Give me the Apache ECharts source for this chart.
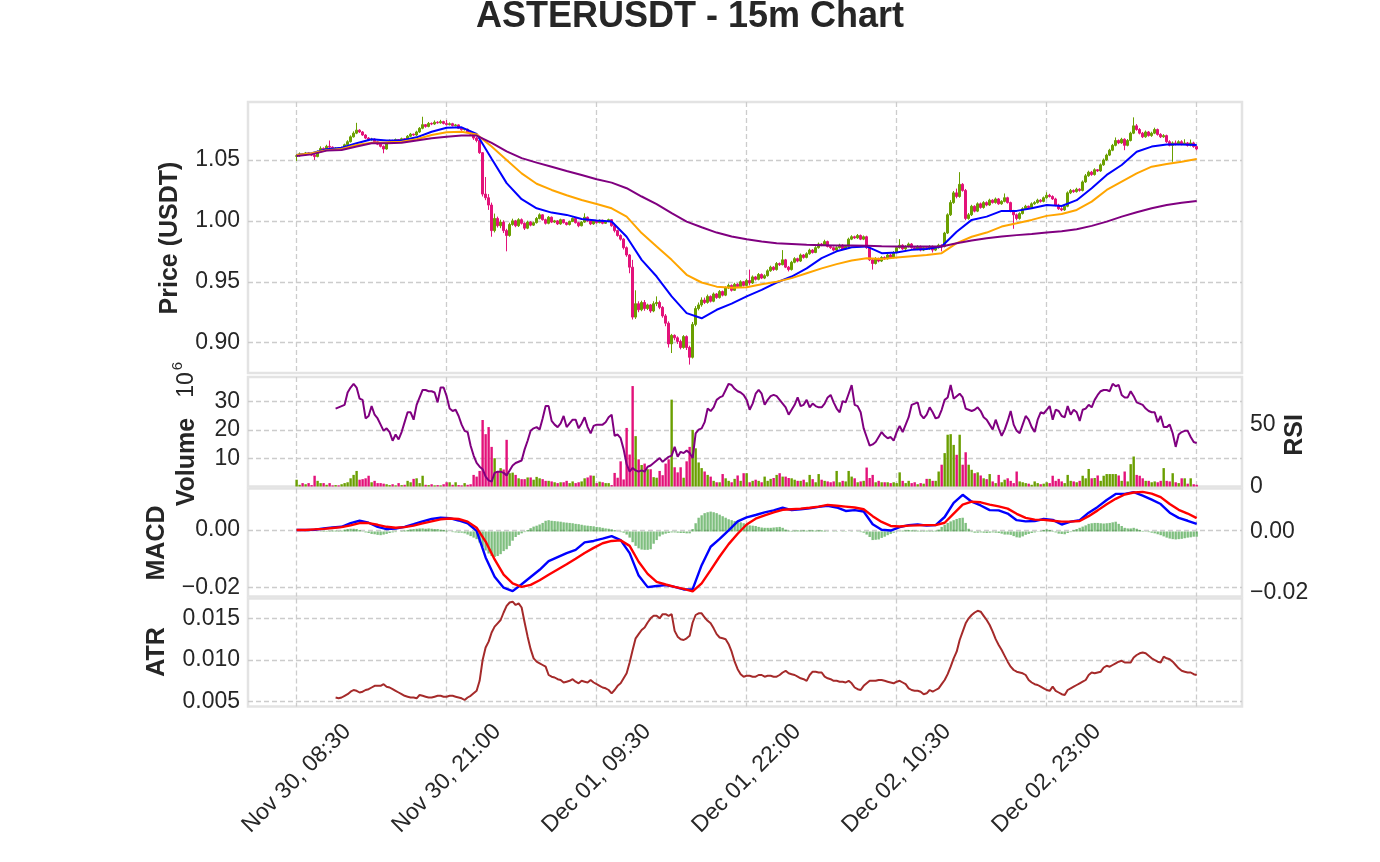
<!DOCTYPE html>
<html>
<head>
<meta charset="utf-8">
<title>ASTERUSDT - 15m Chart</title>
<script src="https://cdn.jsdelivr.net/npm/echarts@6/dist/echarts.min.js"></script>
<style>
html, body { margin: 0; padding: 0; background: #fff; }
#chart { width: 1380px; height: 862px; }
</style>
</head>
<body>
<div id="chart"></div>
<script>
var dom = document.getElementById("chart");
var myChart = echarts.init(dom);

// 15m bars, bar 0 = Nov 30 08:30
var gridBars = [0, 50, 100, 150, 200, 250, 300];
var labelBars = [0, 50, 100, 150, 200, 250];
var tickLabels = ['Nov 30, 08:30', 'Nov 30, 21:00', 'Dec 01, 09:30', 'Dec 01, 22:00', 'Dec 02, 10:30', 'Dec 02, 23:00'];
var priceTicks = [0.90, 0.95, 1.00, 1.05];
var volTicks = [10, 20, 30];
var rsiTicks = [0, 50];
var macdTicks = [-0.02, 0];
var atrTicks = [0.005, 0.010, 0.015];

var firstOpen = 1.0530;
var closes = [
    1.0535,1.0550,1.0542,1.0558,1.0549,1.0540,1.0528,1.0570,1.0595,1.0588,
    1.0612,1.0605,1.0590,1.0598,1.0585,1.0600,1.0625,1.0650,1.0690,1.0720,
    1.0745,1.0730,1.0705,1.0680,1.0665,1.0672,1.0650,1.0630,1.0612,1.0590,
    1.0640,1.0660,1.0655,1.0668,1.0662,1.0675,1.0670,1.0695,1.0712,1.0705,
    1.0730,1.0760,1.0790,1.0775,1.0800,1.0795,1.0810,1.0805,1.0815,1.0800,
    1.0790,1.0798,1.0782,1.0788,1.0760,1.0748,1.0752,1.0728,1.0712,1.0680,
    1.0660,1.0560,1.0220,1.0190,1.0130,0.9920,1.0020,0.9960,0.9990,0.9920,
    0.9880,0.9970,1.0000,0.9960,1.0010,0.9980,0.9940,0.9990,0.9965,0.9985,
    1.0020,1.0050,1.0010,0.9980,1.0030,0.9990,1.0000,0.9975,1.0010,0.9985,
    0.9970,0.9995,1.0020,0.9985,0.9960,0.9990,1.0030,1.0000,0.9975,1.0000,
    0.9985,1.0005,0.9980,0.9995,1.0010,0.9960,0.9920,0.9880,0.9850,0.9780,
    0.9720,0.9620,0.9210,0.9320,0.9270,0.9330,0.9280,0.9310,0.9260,0.9320,
    0.9330,0.9290,0.9220,0.9160,0.8990,0.9060,0.9040,0.9010,0.8960,0.9050,
    0.8960,0.8880,0.9150,0.9280,0.9310,0.9350,0.9330,0.9380,0.9340,0.9400,
    0.9370,0.9420,0.9390,0.9450,0.9470,0.9430,0.9480,0.9460,0.9500,0.9470,
    0.9510,0.9490,0.9540,0.9520,0.9560,0.9530,0.9550,0.9590,0.9620,0.9600,
    0.9650,0.9640,0.9680,0.9620,0.9600,0.9660,0.9690,0.9670,0.9720,0.9700,
    0.9730,0.9760,0.9740,0.9780,0.9810,0.9800,0.9830,0.9790,0.9780,0.9760,
    0.9780,0.9800,0.9770,0.9790,0.9850,0.9870,0.9860,0.9880,0.9850,0.9870,
    0.9780,0.9680,0.9650,0.9690,0.9670,0.9700,0.9690,0.9720,0.9700,0.9740,
    0.9780,0.9800,0.9770,0.9790,0.9810,0.9780,0.9770,0.9790,0.9760,0.9780,
    0.9770,0.9790,0.9760,0.9780,0.9800,0.9790,0.9900,1.0050,1.0150,1.0230,
    1.0200,1.0300,1.0250,1.0020,1.0050,1.0120,1.0080,1.0140,1.0110,1.0150,
    1.0130,1.0170,1.0150,1.0180,1.0140,1.0160,1.0190,1.0150,1.0080,1.0050,
    1.0020,1.0060,1.0100,1.0120,1.0110,1.0140,1.0150,1.0170,1.0160,1.0190,
    1.0210,1.0200,1.0180,1.0130,1.0100,1.0090,1.0120,1.0230,1.0250,1.0240,
    1.0260,1.0250,1.0320,1.0370,1.0400,1.0380,1.0420,1.0410,1.0460,1.0500,
    1.0540,1.0580,1.0620,1.0660,1.0640,1.0670,1.0620,1.0660,1.0720,1.0780,
    1.0750,1.0720,1.0690,1.0730,1.0700,1.0720,1.0750,1.0710,1.0690,1.0700,
    1.0650,1.0620,1.0640,1.0630,1.0650,1.0630,1.0640,1.0620,1.0640,1.0610,1.0590
];
var highs = [
    1.0548,1.0562,1.0556,1.0566,1.0562,1.0553,1.0547,1.0578,1.0612,1.0603,
    1.0625,1.0660,1.0612,1.0606,1.0603,1.0610,1.0634,1.0662,1.0702,1.0735,
    1.0805,1.0752,1.0738,1.0712,1.0688,1.0682,1.0678,1.0658,1.0638,1.0620,
    1.0648,1.0668,1.0666,1.0676,1.0672,1.0684,1.0680,1.0705,1.0722,1.0716,
    1.0740,1.0770,1.0855,1.0795,1.0812,1.0808,1.0825,1.0818,1.0830,1.0822,
    1.0828,1.0808,1.0805,1.0796,1.0792,1.0768,1.0760,1.0758,1.0735,1.0718,
    1.0690,1.0668,1.0565,1.0360,1.0220,1.0150,1.0060,1.0035,1.0010,1.0005,
    0.9935,0.9985,1.0018,1.0008,1.0022,1.0020,0.9988,1.0002,0.9998,0.9995,
    1.0032,1.0062,1.0055,1.0018,1.0040,1.0036,1.0008,1.0006,1.0018,1.0015,
    0.9992,1.0002,1.0028,1.0024,0.9992,0.9998,1.0062,1.0036,1.0006,1.0008,
    1.0008,1.0012,1.0010,1.0002,1.0018,1.0015,0.9966,0.9928,0.9890,0.9858,
    0.9790,0.9728,0.9680,0.9430,0.9340,0.9345,0.9350,0.9320,0.9318,0.9340,
    0.9380,0.9345,0.9300,0.9235,0.9175,0.9072,0.9068,0.9052,0.9025,0.9062,
    0.9060,0.8975,0.9170,0.9300,0.9330,0.9372,0.9370,0.9395,0.9388,0.9412,
    0.9408,0.9432,0.9428,0.9462,0.9485,0.9478,0.9492,0.9488,0.9512,0.9505,
    0.9522,0.9600,0.9552,0.9548,0.9572,0.9568,0.9562,0.9602,0.9632,0.9628,
    0.9662,0.9658,0.9760,0.9688,0.9630,0.9672,0.9702,0.9698,0.9732,0.9728,
    0.9742,0.9772,0.9768,0.9792,0.9822,0.9818,0.9845,0.9838,0.9798,0.9790,
    0.9792,0.9812,0.9808,0.9800,0.9862,0.9882,0.9878,0.9892,0.9888,0.9880,
    0.9878,0.9788,0.9690,0.9702,0.9698,0.9710,0.9708,0.9730,0.9728,0.9752,
    0.9792,0.9850,0.9808,0.9800,0.9822,0.9818,0.9790,0.9800,0.9798,0.9790,
    0.9792,0.9800,0.9798,0.9790,0.9812,0.9808,0.9910,1.0062,1.0170,1.0245,
    1.0265,1.0400,1.0310,1.0262,1.0065,1.0132,1.0128,1.0152,1.0150,1.0162,
    1.0160,1.0182,1.0178,1.0192,1.0188,1.0170,1.0225,1.0198,1.0158,1.0090,
    1.0060,1.0070,1.0112,1.0132,1.0125,1.0152,1.0162,1.0182,1.0178,1.0200,
    1.0235,1.0222,1.0210,1.0190,1.0140,1.0112,1.0132,1.0242,1.0262,1.0258,
    1.0272,1.0268,1.0332,1.0385,1.0412,1.0410,1.0432,1.0425,1.0472,1.0512,
    1.0552,1.0592,1.0632,1.0685,1.0668,1.0682,1.0678,1.0672,1.0732,1.0850,
    1.0795,1.0762,1.0730,1.0742,1.0738,1.0732,1.0765,1.0758,1.0720,1.0712,
    1.0708,1.0662,1.0652,1.0660,1.0662,1.0662,1.0670,1.0648,1.0668,1.0650,1.0618
];
var lows = [
    1.0492,1.0527,1.0536,1.0535,1.0541,1.0532,1.0500,1.0522,1.0562,1.0579,
    1.0580,1.0598,1.0582,1.0583,1.0576,1.0578,1.0594,1.0618,1.0643,1.0684,
    1.0712,1.0722,1.0698,1.0672,1.0655,1.0658,1.0642,1.0622,1.0603,1.0555,
    1.0585,1.0632,1.0648,1.0647,1.0655,1.0655,1.0662,1.0663,1.0688,1.0698,
    1.0698,1.0722,1.0752,1.0765,1.0768,1.0786,1.0788,1.0798,1.0798,1.0792,
    1.0782,1.0784,1.0775,1.0776,1.0754,1.0740,1.0742,1.0720,1.0704,1.0665,
    1.0645,1.0550,1.0200,1.0170,1.0090,0.9870,0.9905,0.9945,0.9940,0.9900,
    0.9750,0.9870,0.9960,0.9948,0.9950,0.9970,0.9925,0.9932,0.9955,0.9958,
    0.9978,1.0012,1.0002,0.9970,0.9972,0.9982,0.9982,0.9966,0.9968,0.9978,
    0.9962,0.9962,0.9990,0.9978,0.9948,0.9955,0.9984,0.9992,0.9965,0.9968,
    0.9978,0.9980,0.9972,0.9975,0.9990,0.9952,0.9905,0.9870,0.9838,0.9765,
    0.9705,0.9570,0.9190,0.9195,0.9250,0.9258,0.9262,0.9268,0.9245,0.9250,
    0.9300,0.9275,0.9205,0.9135,0.8960,0.8915,0.9020,0.8990,0.8945,0.8950,
    0.8940,0.8820,0.8870,0.9135,0.9265,0.9295,0.9318,0.9320,0.9330,0.9332,
    0.9360,0.9362,0.9380,0.9382,0.9440,0.9420,0.9425,0.9452,0.9452,0.9462,
    0.9462,0.9470,0.9482,0.9510,0.9512,0.9522,0.9522,0.9542,0.9582,0.9590,
    0.9592,0.9630,0.9635,0.9612,0.9585,0.9592,0.9652,0.9660,0.9662,0.9690,
    0.9692,0.9722,0.9732,0.9735,0.9772,0.9792,0.9795,0.9782,0.9770,0.9750,
    0.9752,0.9772,0.9760,0.9762,0.9785,0.9842,0.9852,0.9852,0.9842,0.9842,
    0.9770,0.9670,0.9600,0.9642,0.9660,0.9662,0.9680,0.9682,0.9690,0.9692,
    0.9732,0.9772,0.9762,0.9762,0.9782,0.9772,0.9762,0.9760,0.9750,0.9752,
    0.9762,0.9762,0.9740,0.9752,0.9772,0.9750,0.9782,0.9892,1.0040,1.0140,
    1.0185,1.0190,1.0240,1.0005,1.0010,1.0040,1.0070,1.0072,1.0100,1.0100,
    1.0120,1.0122,1.0142,1.0142,1.0132,1.0132,1.0152,1.0142,1.0070,0.9935,
    1.0005,1.0010,1.0052,1.0092,1.0100,1.0102,1.0132,1.0142,1.0150,1.0152,
    1.0182,1.0192,1.0172,1.0120,1.0090,1.0080,1.0082,1.0112,1.0220,1.0230,
    1.0232,1.0240,1.0242,1.0312,1.0362,1.0370,1.0372,1.0402,1.0402,1.0452,
    1.0492,1.0532,1.0572,1.0612,1.0630,1.0632,1.0580,1.0612,1.0652,1.0712,
    1.0740,1.0710,1.0680,1.0682,1.0692,1.0690,1.0712,1.0700,1.0680,1.0682,
    1.0640,1.0612,1.0485,1.0620,1.0622,1.0620,1.0628,1.0610,1.0612,1.0600,1.0580
];
// volume in millions
var volumes = [
    2.4,0.6,1.2,0.8,1.2,0.5,3.8,2.0,1.2,1.2,
    0.6,1.2,0.4,0.5,0.4,0.8,1.2,1.5,2.9,4.1,
    5.5,2.4,2.6,2.9,3.8,1.5,2.0,1.2,1.2,1.0,
    0.8,0.5,0.8,0.4,1.2,0.5,0.6,2.0,1.5,2.7,
    2.9,1.2,3.8,0.6,0.5,0.8,0.4,0.5,0.4,0.8,
    1.5,1.5,0.6,1.5,0.5,0.4,1.2,0.6,0.8,4.1,
    3.5,5.5,23.5,18.5,21.0,14.0,10.0,5.3,6.5,6.0,
    16.5,4.7,4.9,4.1,2.9,2.6,2.6,3.2,3.2,2.4,
    3.4,2.9,2.6,2.0,2.0,1.8,1.5,1.2,1.5,1.5,
    2.0,1.2,1.8,1.2,1.5,1.8,2.9,3.2,3.9,3.8,
    1.2,1.7,1.5,1.2,1.2,0.5,4.8,3.1,8.9,2.5,
    20.7,11.3,35.5,17.8,9.6,7.6,8.1,6.1,6.1,3.3,
    3.1,5.5,4.0,8.1,9.6,30.7,6.8,5.0,6.8,3.1,
    8.9,14.0,20.0,13.5,8.5,6.5,5.3,4.1,3.5,2.0,
    1.5,1.5,4.4,2.9,2.0,1.5,2.7,3.9,2.0,4.7,
    4.7,1.5,2.0,2.4,2.0,1.5,3.5,2.0,2.7,3.0,
    4.1,4.7,3.5,3.5,3.0,2.9,2.4,2.0,2.0,2.4,
    1.5,4.1,2.6,1.5,4.4,2.4,2.0,1.8,1.5,1.8,
    5.5,1.5,2.0,1.8,5.5,3.5,2.9,1.5,1.8,2.0,
    6.7,3.0,4.1,1.5,2.0,1.5,1.5,1.5,1.2,1.5,
    1.2,5.0,2.0,1.2,2.0,1.2,1.5,0.8,1.2,1.0,
    2.7,2.7,2.0,2.0,5.3,7.7,11.8,18.3,18.5,14.7,
    11.2,18.3,7.7,12.1,7.7,5.9,4.7,5.0,3.9,2.9,
    2.6,4.4,1.8,1.2,4.1,1.5,2.4,2.9,2.0,1.2,
    5.3,1.8,1.5,1.2,1.0,0.6,1.8,1.2,0.8,1.0,
    1.5,1.2,3.8,2.0,2.7,1.8,1.2,4.1,2.0,1.8,
    1.5,2.0,3.8,2.9,6.2,2.9,3.0,3.9,2.0,3.8,
    4.4,4.4,4.4,4.4,3.9,2.0,5.3,1.8,7.9,10.6,
    4.1,3.8,2.9,2.0,2.0,1.5,1.8,1.5,2.0,6.5,
    2.0,1.8,4.7,1.5,1.2,2.9,2.9,1.0,2.9,0.8,0.6
];

// moving averages, one value every 5 bars
var emaStep = 5;
var emaFast = [
    1.0541,1.0555,1.0588,1.0600,1.0637,1.0670,1.0660,1.0660,1.0686,1.0732,
    1.0765,1.0768,1.0714,1.0510,1.0310,1.0178,1.0103,1.0068,1.0049,1.0016,
    1.0003,0.9995,0.9870,0.9680,0.9543,0.9380,0.9243,0.9200,0.9270,0.9320,
    0.9380,0.9434,0.9494,0.9543,0.9610,0.9694,0.9750,0.9784,0.9790,0.9735,
    0.9740,0.9762,0.9770,0.9790,0.9910,1.0008,1.0035,1.0082,1.0082,1.0103,
    1.0130,1.0122,1.0170,1.0268,1.0377,1.0459,1.0568,1.0610,1.0628,1.0628,
    1.0623
];
var emaMid = [
    1.0541,1.0555,1.0580,1.0590,1.0623,1.0642,1.0645,1.0650,1.0670,1.0705,
    1.0727,1.0732,1.0710,1.0610,1.0500,1.0390,1.0305,1.0254,1.0210,1.0172,
    1.0138,1.0103,1.0035,0.9900,0.9790,0.9680,0.9557,0.9494,0.9460,0.9450,
    0.9455,0.9480,0.9500,0.9530,0.9570,0.9610,0.9645,0.9675,0.9694,0.9686,
    0.9700,0.9710,0.9720,0.9735,0.9817,0.9870,0.9904,0.9953,0.9980,1.0008,
    1.0041,1.0057,1.0090,1.0158,1.0254,1.0322,1.0390,1.0445,1.0467,1.0486,
    1.0508
];
var emaSlow = [
    1.0532,1.0546,1.0577,1.0582,1.0610,1.0637,1.0637,1.0642,1.0659,1.0678,
    1.0691,1.0700,1.0700,1.0640,1.0570,1.0515,1.0478,1.0445,1.0410,1.0377,
    1.0342,1.0314,1.0268,1.0200,1.0137,1.0063,0.9994,0.9948,0.9904,0.9872,
    0.9850,0.9830,0.9817,0.9810,0.9803,0.9800,0.9797,0.9797,0.9795,0.9792,
    0.9790,0.9790,0.9790,0.9790,0.9817,0.9839,0.9858,0.9872,0.9883,0.9893,
    0.9904,0.9915,0.9932,0.9959,0.9994,1.0035,1.0071,1.0103,1.0130,1.0149,
    1.0163
];

var rsiStart = 13;
var rsi = [
    63,64,65,66,76,80,83,
    80,71,70,55,57,65,58,55,50,45,
    47,44,37,42,38,44,52,60,60,54,
    66,72,78,78,77,77,76,68,80,80,
    73,63,61,62,57,50,45,44,33,25,
    19,16,14,8,5,4,11,12,12,11,
    9,13,17,19,20,21,30,37,45,47,
    48,46,55,65,65,53,50,48,51,57,
    48,51,54,54,47,51,56,48,43,49,
    50,50,50,52,56,58,41,42,39,30,
    18,12,15,13,12,13,12,16,17,19,
    21,23,20,22,24,25,32,24,28,27,
    29,27,23,43,46,47,52,63,61,64,
    70,72,73,78,83,82,79,77,76,74,
    70,62,67,75,78,75,66,70,73,74,
    73,70,67,64,58,62,66,72,65,66,
    70,64,67,65,64,64,67,72,74,68,
    63,60,69,68,75,82,66,65,60,47,
    40,33,34,36,40,44,41,39,40,37,
    44,49,44,50,56,66,67,68,58,55,
    58,64,60,55,56,62,70,72,82,71,
    73,75,72,63,62,61,62,64,61,56,
    54,50,46,54,47,41,46,53,61,50,
    45,43,50,57,54,48,44,54,60,59,
    62,65,54,62,61,57,56,65,58,62,
    60,53,62,63,66,64,70,74,77,78,
    78,77,83,81,82,74,72,72,77,73,
    68,67,66,63,61,60,60,52,57,48,
    48,50,43,32,42,44,45,45,40,36,
    35
];

// MACD and signal, one value every 3 bars
var macdStep = 3;
var macdLine = [
    0.0000,0.0000,0.0001,0.0005,0.0009,0.0011,0.0024,0.0032,0.0025,0.0011,
    0.0003,0.0005,0.0011,0.0020,0.0030,0.0038,0.0043,0.0041,0.0033,0.0023,
    -0.0003,-0.0095,-0.0162,-0.0200,-0.0212,-0.0188,-0.0163,-0.0138,-0.0108,-0.0094,
    -0.0080,-0.0069,-0.0043,-0.0038,-0.0030,-0.0021,-0.0035,-0.0080,-0.0158,-0.0198,
    -0.0194,-0.0191,-0.0197,-0.0206,-0.0205,-0.0122,-0.0058,-0.0031,-0.0001,0.0030,
    0.0044,0.0052,0.0061,0.0068,0.0077,0.0069,0.0072,0.0075,0.0080,0.0084,
    0.0078,0.0066,0.0069,0.0064,0.0020,0.0001,-0.0002,0.0010,0.0017,0.0019,
    0.0015,0.0017,0.0045,0.0094,0.0122,0.0098,0.0085,0.0069,0.0068,0.0057,
    0.0034,0.0030,0.0031,0.0038,0.0035,0.0019,0.0029,0.0034,0.0060,0.0080,
    0.0104,0.0125,0.0125,0.0131,0.0119,0.0105,0.0090,0.0060,0.0042,0.0032,
    0.0021
];
var signalLine = [
    0.0000,0.0000,0.0002,0.0004,0.0007,0.0010,0.0016,0.0024,0.0024,0.0018,
    0.0011,0.0008,0.0010,0.0015,0.0023,0.0030,0.0037,0.0040,0.0038,0.0029,
    0.0008,-0.0040,-0.0102,-0.0155,-0.0185,-0.0197,-0.0190,-0.0174,-0.0155,-0.0137,
    -0.0119,-0.0100,-0.0080,-0.0062,-0.0046,-0.0038,-0.0036,-0.0055,-0.0110,-0.0152,
    -0.0180,-0.0189,-0.0197,-0.0204,-0.0213,-0.0185,-0.0139,-0.0092,-0.0049,-0.0013,
    0.0019,0.0039,0.0051,0.0061,0.0070,0.0072,0.0074,0.0077,0.0081,0.0087,
    0.0084,0.0081,0.0078,0.0072,0.0048,0.0028,0.0014,0.0012,0.0015,0.0016,
    0.0017,0.0017,0.0025,0.0057,0.0088,0.0098,0.0096,0.0088,0.0082,0.0074,
    0.0056,0.0042,0.0036,0.0035,0.0032,0.0029,0.0029,0.0031,0.0048,0.0068,
    0.0089,0.0108,0.0123,0.0130,0.0132,0.0126,0.0114,0.0090,0.0070,0.0057,
    0.0041
];
var macdHist = [
    0,0,0,0,0.0001,0,0,0.0001,0.0001,0.0002,
    0.0002,0.0002,0.0003,0.0003,0.0002,0.0003,0.0006,0.0008,0.0009,0.0009,
    0.0008,0.0005,0.0001,-0.0003,-0.0005,-0.0008,-0.0009,-0.0011,-0.0012,-0.0010,
    -0.0008,-0.0005,-0.0003,-0.0002,0,0.0002,0.0003,0.0005,0.0007,0.0008,
    0.0009,0.0010,0.0010,0.0009,0.0010,0.0009,0.0008,0.0008,0.0006,0.0005,
    0.0003,0,-0.0002,-0.0003,-0.0004,-0.0004,-0.0006,-0.0010,-0.0015,-0.0020,
    -0.0025,-0.0036,-0.0050,-0.0062,-0.0072,-0.0080,-0.0083,-0.0080,-0.0074,-0.0064,
    -0.0058,-0.0047,-0.0030,-0.0018,-0.0011,-0.0006,-0.0002,0.0005,0.0011,0.0016,
    0.0019,0.0023,0.0028,0.0035,0.0037,0.0035,0.0034,0.0033,0.0032,0.0030,
    0.0029,0.0028,0.0027,0.0025,0.0024,0.0022,0.0020,0.0019,0.0018,0.0017,
    0.0015,0.0014,0.0012,0.0010,0.0009,0.0007,0.0005,0.0001,-0.0002,-0.0004,
    -0.0010,-0.0020,-0.0035,-0.0047,-0.0055,-0.0059,-0.0060,-0.0060,-0.0058,-0.0040,
    -0.0028,-0.0016,-0.0010,-0.0007,-0.0005,-0.0003,-0.0003,-0.0004,-0.0005,-0.0005,
    -0.0006,-0.0006,0.0008,0.0027,0.0045,0.0053,0.0060,0.0063,0.0065,0.0063,
    0.0060,0.0055,0.0050,0.0045,0.0040,0.0037,0.0034,0.0032,0.0030,0.0027,
    0.0024,0.0020,0.0019,0.0018,0.0015,0.0013,0.0012,0.0012,0.0012,0.0013,
    0.0014,0.0015,0.0012,0.0006,0.0003,0.0002,0.0003,0.0004,0.0003,0.0004,
    0.0003,0.0004,0.0004,0.0003,0.0004,0.0004,0.0002,0.0001,0,0.0001,
    0.0001,0,0.0001,0.0001,0,0.0001,0,-0.0001,-0.0002,-0.0004,
    -0.0010,-0.0018,-0.0028,-0.0027,-0.0026,-0.0021,-0.0017,-0.0012,-0.0008,-0.0004,
    -0.0001,0.0001,0.0003,0.0004,0.0005,0.0004,0.0003,0.0003,0.0002,0.0002,
    0.0003,0.0002,0.0002,0.0003,0.0006,0.0015,0.0022,0.0028,0.0033,0.0037,
    0.0041,0.0044,0.0045,0.0028,0.0009,-0.0002,-0.0004,-0.0004,-0.0003,-0.0004,
    -0.0005,-0.0004,-0.0003,-0.0004,-0.0005,-0.0007,-0.0010,-0.0010,-0.0011,-0.0015,
    -0.0019,-0.0020,-0.0016,-0.0011,-0.0008,-0.0005,-0.0003,-0.0001,0.0002,0.0005,
    0.0007,0.0005,0.0002,-0.0003,-0.0007,-0.0008,-0.0009,-0.0005,-0.0002,0.0004,
    0.0008,0.0012,0.0016,0.0020,0.0025,0.0027,0.0028,0.0028,0.0027,0.0026,
    0.0027,0.0028,0.0030,0.0032,0.0025,0.0018,0.0012,0.0010,0.0010,0.0012,
    0.0009,0.0005,0.0002,-0.0001,-0.0002,-0.0004,-0.0006,-0.0009,-0.0012,-0.0016,
    -0.0020,-0.0023,-0.0025,-0.0026,-0.0025,-0.0024,-0.0022,-0.0020,-0.0019,-0.0017,-0.0017
];

var atrStart = 13;
var atr = [
    .0055,.0054,.0055,.0057,.0059,.0062,.0064,
    .0063,.0061,.0062,.0064,.0065,.0067,.0069,.0069,.0069,.0071,
    .0068,.0067,.0065,.0063,.0061,.0059,.0057,.0056,.0055,.0055,
    .0054,.0058,.0057,.0056,.0055,.0055,.0056,.0057,.0057,.0056,
    .0056,.0057,.0057,.0056,.0055,.0054,.0052,.0055,.0057,.0060,
    .0063,.0075,.0100,.0115,.0122,.0133,.0140,.0144,.0148,.0157,
    .0165,.0169,.0170,.0166,.0168,.0163,.0145,.0128,.0113,.0102,
    .0098,.0096,.0094,.0092,.0082,.0080,.0079,.0077,.0076,.0073,
    .0074,.0075,.0077,.0074,.0072,.0075,.0074,.0073,.0076,.0073,
    .0071,.0069,.0067,.0066,.0064,.0060,.0064,.0069,.0072,.0078,
    .0084,.0097,.0112,.0126,.0131,.0136,.0139,.0145,.0150,.0153,
    .0153,.0150,.0155,.0155,.0153,.0155,.0135,.0128,.0125,.0124,
    .0126,.0129,.0145,.0154,.0156,.0156,.0151,.0147,.0144,.0138,
    .0131,.0127,.0126,.0125,.0119,.0110,.0098,.0089,.0083,.0080,
    .0081,.0081,.0080,.0080,.0082,.0082,.0080,.0081,.0081,.0080,
    .0080,.0082,.0085,.0087,.0084,.0083,.0082,.0080,.0078,.0077,
    .0075,.0082,.0086,.0086,.0085,.0085,.0080,.0078,.0077,.0075,
    .0075,.0074,.0074,.0073,.0075,.0072,.0067,.0065,.0064,.0069,
    .0072,.0075,.0075,.0075,.0076,.0076,.0075,.0074,.0073,.0072,
    .0074,.0075,.0073,.0071,.0066,.0064,.0063,.0063,.0062,.0059,
    .0060,.0064,.0062,.0064,.0066,.0071,.0076,.0083,.0092,.0102,
    .0110,.0124,.0134,.0144,.0150,.0154,.0157,.0159,.0158,.0153,
    .0148,.0142,.0134,.0125,.0118,.0112,.0105,.0098,.0092,.0088,
    .0086,.0085,.0084,.0082,.0076,.0073,.0071,.0070,.0068,.0066,
    .0064,.0063,.0068,.0063,.0061,.0059,.0058,.0064,.0066,.0068,
    .0070,.0072,.0074,.0076,.0082,.0085,.0084,.0085,.0086,.0091,
    .0093,.0092,.0094,.0096,.0098,.0099,.0097,.0097,.0097,.0103,
    .0106,.0108,.0109,.0108,.0105,.0102,.0100,.0098,.0097,.0104,
    .0102,.0101,.0098,.0094,.0090,.0087,.0086,.0085,.0085,.0083,
    .0082
];

// ---- build series data ----
var UP = '#6a9f00', DOWN = '#e3127a';
var opens = closes.map(function (c, i) { return i === 0 ? firstOpen : closes[i - 1]; });
var candleData = closes.map(function (c, i) { return [i, opens[i], c, lows[i], highs[i]]; });
var volData = volumes.map(function (v, i) {
    return { value: [i, v], itemStyle: { color: closes[i] >= opens[i] ? UP : DOWN } };
});
function withBars(arr, start, step) {
    return arr.map(function (v, i) { return [start + i * step, v]; });
}

var FONT = '"Liberation Sans", Arial, Helvetica, sans-serif';
var INK = '#262626';
var gridLine = { color: '#cccccc', width: 1.3, type: [5, 3] };
function tickText(extra) {
    return Object.assign({ fontFamily: FONT, fontSize: 23, color: INK }, extra);
}
function fixed(d) {
    return function (v) { return v.toFixed(d).replace('-', '\u2212'); };
}

var LEFT = 248, WIDTH = 994;
var grids = [
    { top: 102, height: 271 },
    { top: 377, height: 109.5 },
    { top: 488.5, height: 108 },
    { top: 598.5, height: 108 }
].map(function (g) {
    return Object.assign(g, {
        left: LEFT, width: WIDTH, show: true,
        backgroundColor: '#ffffff', borderColor: '#e3e3e3', borderWidth: 2.5
    });
});

var xAxes = [0, 1, 2, 3].map(function (gi) {
    return {
        type: 'value', gridIndex: gi, min: -16.2, max: 315.1,
        axisLine: { show: false, onZero: false },
        axisTick: { show: false, customValues: gridBars },
        splitLine: { show: true, lineStyle: gridLine },
        axisLabel: gi === 3 ? tickText({
            customValues: labelBars, rotate: 45, align: 'center', verticalAlign: 'middle', margin: 72,
            formatter: function (v) {
                var k = labelBars.indexOf(Math.round(v));
                return k >= 0 ? tickLabels[k] : '';
            }
        }) : { show: false }
    };
});

function yAxis(gi, pos, min, max, ticks, fmt, grid) {
    return {
        type: 'value', gridIndex: gi, position: pos, min: min, max: max,
        axisLine: { show: false }, axisTick: { show: false, customValues: ticks },
        axisLabel: tickText({ customValues: ticks, formatter: fmt, margin: 8 }),
        splitLine: { show: grid, lineStyle: gridLine }
    };
}

var yAxes = [
    yAxis(0, 'left', 0.8751, 1.0976, priceTicks, fixed(2), true),
    yAxis(1, 'left', 0, 38.7, volTicks, fixed(0), true),
    yAxis(1, 'right', 0, 88.5, rsiTicks, fixed(0), false),
    yAxis(2, 'left', -0.02305, 0.01438, macdTicks, fixed(2), true),
    yAxis(2, 'right', -0.02124, 0.01405, macdTicks, fixed(2), false),
    yAxis(3, 'left', 0.00442, 0.01738, atrTicks, fixed(3), true)
];

function line(name, xi, yi, data, color, width) {
    return {
        name: name, type: 'line', xAxisIndex: xi, yAxisIndex: yi, data: data,
        showSymbol: false, symbol: 'none', silent: true,
        lineStyle: { color: color, width: width }, itemStyle: { color: color }
    };
}

function vText(txt, x, y, size, weight) {
    return {
        type: 'text', x: x, y: y, rotation: Math.PI / 2, silent: true,
        style: {
            text: txt, fill: INK,
            font: weight + ' ' + size + 'px ' + FONT,
            align: 'center', verticalAlign: 'middle',
            textAlign: 'center', textVerticalAlign: 'middle'
        }
    };
}

option = {
    animation: false,
    backgroundColor: '#ffffff',
    grid: grids,
    xAxis: xAxes,
    yAxis: yAxes,
    graphic: [
        {
            type: 'text', x: 690, y: 17, silent: true,
            style: {
                text: 'ASTERUSDT - 15m Chart', fill: INK, font: 'bold 36px ' + FONT,
                align: 'center', verticalAlign: 'middle', textAlign: 'center', textVerticalAlign: 'middle'
            }
        },
        vText('Price (USDT)', 170, 238, 25, 'bold'),
        vText('Volume', 187, 462, 25, 'bold'),
        vText('10', 187, 385, 23, 'normal'),
        vText('6', 178, 366, 15, 'normal'),
        vText('RSI', 1295, 435, 25, 'bold'),
        vText('MACD', 157, 543, 25, 'bold'),
        vText('ATR', 157, 652, 25, 'bold')
    ],
    series: [
        {
            name: 'Price', type: 'candlestick', xAxisIndex: 0, yAxisIndex: 0,
            data: candleData, encode: { x: 0, y: [1, 2, 3, 4] },
            barWidth: 2, silent: true,
            itemStyle: { color: UP, color0: DOWN, borderColor: UP, borderColor0: DOWN, borderWidth: 1 }
        },
        line('EMA fast', 0, 0, withBars(emaFast, 0, emaStep), '#0000ff', 2),
        line('EMA mid', 0, 0, withBars(emaMid, 0, emaStep), '#ffa500', 2),
        line('EMA slow', 0, 0, withBars(emaSlow, 0, emaStep), '#800080', 2),
        {
            name: 'Volume', type: 'bar', xAxisIndex: 1, yAxisIndex: 1,
            data: volData, barWidth: 2.4, silent: true
        },
        line('RSI', 1, 2, withBars(rsi, rsiStart, 1), '#800080', 2),
        {
            name: 'Histogram', type: 'bar', xAxisIndex: 2, yAxisIndex: 4,
            data: withBars(macdHist, 0, 1), barWidth: 2.4, silent: true,
            itemStyle: { color: 'rgba(0,128,0,0.5)' }
        },
        line('MACD', 2, 3, withBars(macdLine, 0, macdStep), '#0000ff', 2.4),
        line('Signal', 2, 3, withBars(signalLine, 0, macdStep), '#ff0000', 2.4),
        line('ATR', 3, 5, withBars(atr, atrStart, 1), '#a52a2a', 2)
    ]
};

if (option && typeof option === "object") {
    myChart.setOption(option, true);
}
</script>
</body>
</html>
